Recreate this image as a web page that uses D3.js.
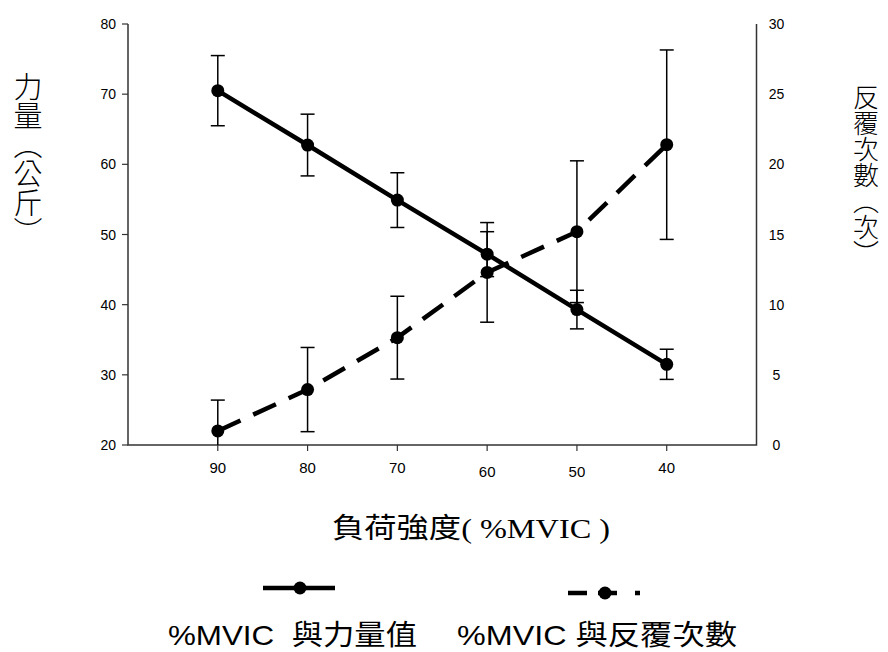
<!DOCTYPE html>
<html>
<head>
<meta charset="utf-8">
<script src="https://cdn.jsdelivr.net/npm/d3@7"></script>
<style>
  body { margin: 0; background: #fff; }
  svg { display: block; }
</style>
</head>
<body>
<div id="chart"></div>
<script>
// data
const loads = [90, 80, 70, 60, 50, 40];
const force = [70.5, 62.75, 54.9, 47.2, 39.3, 31.5];
const forceErr = [5.0, 4.4, 3.9, 3.2, 2.75, 2.15];
const reps = [1.0, 3.95, 7.65, 12.3, 15.2, 21.4];
const repsErr = [2.2, 3.0, 2.95, 3.55, 5.05, 6.75];
const leftTicks = [20, 30, 40, 50, 60, 70, 80];
const rightTicks = [0, 5, 10, 15, 20, 25, 30];

const W = 888, H = 652;
const pLeft = 128, pRight = 756.5, pTop = 24, pBottom = 445;

const svg = d3.select('#chart').append('svg')
  .attr('width', W).attr('height', H);

const x = d3.scaleLinear().domain([100, 30]).range([pLeft, pRight]);
const yL = d3.scaleLinear().domain([20, 80]).range([pBottom, pTop]);
const yR = d3.scaleLinear().domain([0, 30]).range([pBottom, pTop]);

const sans = 'Arial, "Liberation Sans", "Noto Sans CJK TC", sans-serif';
const serif = '"Liberation Serif", "Noto Sans CJK TC", serif';
const cjk = '"Noto Sans CJK TC", sans-serif';

// axes frame (left, bottom, right)
const axisCol = '#333';
svg.append('path')
  .attr('d', `M${pLeft},${pTop}V${pBottom}H${pRight}V${pTop}`)
  .attr('fill', 'none').attr('stroke', axisCol).attr('stroke-width', 1.5);

// left ticks
const gl = svg.append('g');
gl.selectAll('line').data(leftTicks).join('line')
  .attr('x1', pLeft - 6).attr('x2', pLeft)
  .attr('y1', d => yL(d)).attr('y2', d => yL(d))
  .attr('stroke', axisCol).attr('stroke-width', 1.2);
gl.selectAll('text').data(leftTicks).join('text')
  .attr('x', pLeft - 12).attr('y', d => yL(d) + 5)
  .attr('text-anchor', 'end')
  .attr('font-family', sans).attr('font-size', '14px')
  .text(d => d);

// right tick labels (no tick marks)
svg.append('g').selectAll('text').data(rightTicks).join('text')
  .attr('x', pRight + 20).attr('y', d => yR(d) + 5)
  .attr('text-anchor', 'middle')
  .attr('font-family', sans).attr('font-size', '14px')
  .text(d => d);

// x ticks
const gx = svg.append('g');
gx.selectAll('line').data(loads).join('line')
  .attr('x1', d => x(d)).attr('x2', d => x(d))
  .attr('y1', pBottom).attr('y2', pBottom + 6)
  .attr('stroke', axisCol).attr('stroke-width', 1.2);
gx.selectAll('text').data(loads).join('text')
  .attr('x', d => x(d))
  .attr('y', d => (d == 60 || d == 50) ? 477 : 473)
  .attr('text-anchor', 'middle')
  .attr('font-family', sans).attr('font-size', '15px')
  .text(d => d);

// axis titles
svg.append('text')
  .attr('x', 332).attr('y', 538)
  .attr('font-family', serif).attr('font-size', '28px')
  .attr('textLength', 278).attr('lengthAdjust', 'spacingAndGlyphs')
  .text('負荷強度( %MVIC )');

svg.append('text')
  .attr('x', 28).attr('y', 72)
  .attr('writing-mode', 'tb')
  .style('writing-mode', 'vertical-rl')
  .attr('font-family', cjk).attr('font-size', '29px')
  .attr('font-weight', 300)
  .attr('letter-spacing', 0)
  .text('力量︵公斤︶');

svg.append('text')
  .attr('x', 866).attr('y', 84)
  .attr('writing-mode', 'tb')
  .style('writing-mode', 'vertical-rl')
  .attr('font-family', cjk).attr('font-size', '26px')
  .attr('font-weight', 300)
  .attr('letter-spacing', 0)
  .text('反覆次數︵次︶');

// error bars
const cap = 7;
function errorBars(vals, errs, y, ymin) {
  const g = svg.append('g').attr('stroke', '#000').attr('stroke-width', 1.5);
  loads.forEach((l, i) => {
    const hi = vals[i] + errs[i];
    const lo = Math.max(vals[i] - errs[i], ymin);
    g.append('line')
      .attr('x1', x(l)).attr('x2', x(l))
      .attr('y1', y(hi)).attr('y2', y(lo));
    g.append('line')
      .attr('x1', x(l) - cap).attr('x2', x(l) + cap)
      .attr('y1', y(hi)).attr('y2', y(hi));
    if (vals[i] - errs[i] > ymin) {
      g.append('line')
        .attr('x1', x(l) - cap).attr('x2', x(l) + cap)
        .attr('y1', y(lo)).attr('y2', y(lo));
    }
  });
}
errorBars(force, forceErr, yL, 20);
errorBars(reps, repsErr, yR, 0);

// lines
const lineF = d3.line().x((d, i) => x(loads[i])).y(d => yL(d));
const lineR = d3.line().x((d, i) => x(loads[i])).y(d => yR(d));

svg.append('path').datum(force)
  .attr('d', lineF).attr('fill', 'none')
  .attr('stroke', '#000').attr('stroke-width', 4.5);
svg.append('path').datum(reps)
  .attr('d', lineR).attr('fill', 'none')
  .attr('stroke', '#000').attr('stroke-width', 4.5)
  .attr('stroke-dasharray', '25,14');

svg.append('g').selectAll('circle').data(force).join('circle')
  .attr('cx', (d, i) => x(loads[i])).attr('cy', d => yL(d)).attr('r', 6.5);
svg.append('g').selectAll('circle').data(reps).join('circle')
  .attr('cx', (d, i) => x(loads[i])).attr('cy', d => yR(d)).attr('r', 6.5);

// legend
const lg = svg.append('g');
lg.append('line').attr('x1', 263).attr('x2', 335).attr('y1', 588).attr('y2', 588)
  .attr('stroke', '#000').attr('stroke-width', 4.5);
lg.append('circle').attr('cx', 300).attr('cy', 588).attr('r', 6.5);
lg.append('line').attr('x1', 568).attr('x2', 640).attr('y1', 593).attr('y2', 593)
  .attr('stroke', '#000').attr('stroke-width', 4.5)
  .attr('stroke-dasharray', '19,11,19,18,5');
lg.append('circle').attr('cx', 605).attr('cy', 593).attr('r', 6.5);

lg.append('text').attr('x', 168).attr('y', 645)
  .attr('font-family', sans).attr('font-size', '28px')
  .attr('textLength', 249).attr('lengthAdjust', 'spacingAndGlyphs')
  .style('white-space', 'pre')
  .text('%MVIC  與力量值');
lg.append('text').attr('x', 457).attr('y', 645)
  .attr('font-family', sans).attr('font-size', '28px')
  .attr('textLength', 280).attr('lengthAdjust', 'spacingAndGlyphs')
  .text('%MVIC 與反覆次數');
</script>
</body>
</html>
